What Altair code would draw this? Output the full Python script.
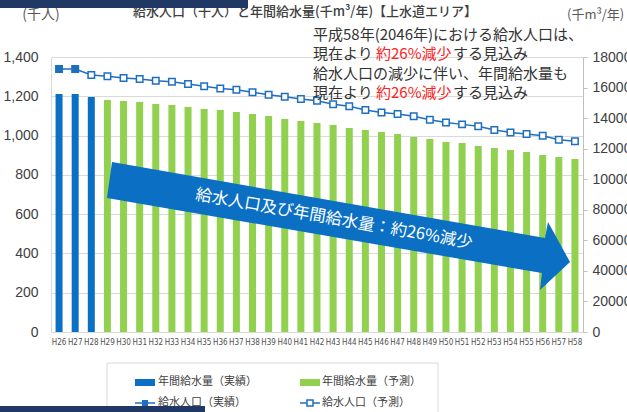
import altair as alt
import pandas as pd

# ---------------- data ----------------
years = ["H26", "H27", "H28", "H29", "H30", "H31", "H32", "H33", "H34", "H35", "H36",
         "H37", "H38", "H39", "H40", "H41", "H42", "H43", "H44", "H45", "H46", "H47",
         "H48", "H49", "H50", "H51", "H52", "H53", "H54", "H55", "H56", "H57", "H58"]
# 年間給水量 (千m3/年)
water = [155800, 155800, 153800, 151800, 151200, 150500, 149200, 148600, 147300, 146000,
         145300, 144000, 142700, 141400, 139400, 138100, 136800, 135500, 133500, 132200,
         130900, 129600, 127600, 126300, 124400, 123700, 121700, 120400, 119100, 117800,
         115800, 114500, 113200]
# 給水人口 (千人)
population = [1339, 1339, 1308, 1302, 1293, 1288, 1279, 1274, 1262, 1251, 1240, 1233,
              1220, 1208, 1198, 1186, 1177, 1160, 1149, 1130, 1118, 1110, 1098, 1081,
              1067, 1057, 1047, 1028, 1016, 1008, 999, 979, 971]
water_kind = ["実績", "実績", "実績"] + ["予測"] * 30
pop_kind = ["実績", "実績"] + ["予測"] * 31

left_ticks = [0, 200, 400, 600, 800, 1000, 1200, 1400]
right_ticks = [0, 20000, 40000, 60000, 80000, 100000, 120000, 140000, 160000, 180000]

title_text = "給水人口（千人）と年間給水量(千m³/年)【上水道エリア】"
left_unit = "(千人)"
right_unit = "(千m³/年)"
note_line1 = "平成58年(2046年)における給水人口は、"
note_pre = "現在より"
note_red = "約26%減少"
note_post = "する見込み"
note_line3 = "給水人口の減少に伴い、年間給水量も"
arrow_text = "給水人口及び年間給水量：約26%減少"
legend_labels = ["年間給水量（実績）", "年間給水量（予測）", "給水人口（実績）", "給水人口（予測）"]

# ---------------- styles ----------------
BLUE = "#0b6fc4"
GREEN = "#92d050"
LINE_BLUE = "#1f6fc0"
ARROW_BLUE = "#0b6fc4"
NAVY = "#1f3864"
GRID = "#d9d9d9"
TXT = "#404040"
JP = "Noto Sans CJK JP"
LAT = "Liberation Sans"
NARROW = "Liberation Sans Narrow, DejaVu Sans Condensed, Arial Narrow, Liberation Sans, sans-serif"

df = pd.DataFrame({"year": years, "water": water, "pop": population,
                   "wkind": water_kind, "pkind": pop_kind})

x_enc = alt.X("year:N", sort=years,
              scale=alt.Scale(paddingInner=0, paddingOuter=0),
              axis=alt.Axis(title=None, labelAngle=0, labelFontSize=8, labelFont=NARROW,
                            labelColor="#505050", ticks=False, domainColor=GRID, labelPadding=6,
                            labelOverlap=False))

bars = alt.Chart(df).mark_bar(size=7).encode(
    x=x_enc,
    y=alt.Y("water:Q", scale=alt.Scale(domain=[0, 180000], nice=False),
            axis=alt.Axis(orient="right", values=right_ticks, format="d", title=None, grid=False,
                          tickColor="#bfbfbf", tickSize=4, domainColor="#bfbfbf",
                          labelFontSize=14, labelFont=LAT, labelColor=TXT, labelPadding=5)),
    color=alt.Color("wkind:N", scale=alt.Scale(domain=["実績", "予測"], range=[BLUE, GREEN]),
                    legend=None),
)

pop_y = alt.Y("pop:Q", scale=alt.Scale(domain=[0, 1400], nice=False),
              axis=alt.Axis(orient="left", values=left_ticks, format=",d", title=None, grid=True,
                            gridColor=GRID, ticks=False, domainColor=GRID, labelFontSize=14,
                            labelFont=LAT, labelColor=TXT, labelPadding=13))

line = alt.Chart(df).mark_line(color=LINE_BLUE, strokeWidth=1.5).encode(x=x_enc, y=pop_y)
pts = alt.Chart(df).mark_point(shape="square", size=42, strokeWidth=1.5, opacity=1,
                               stroke=LINE_BLUE).encode(
    x=x_enc, y=pop_y,
    fill=alt.Fill("pkind:N", scale=alt.Scale(domain=["実績", "予測"], range=[LINE_BLUE, "white"]),
                  legend=None),
)
pop_layer = alt.layer(line, pts)

one = pd.DataFrame({"t": [""]})


def txt(s, x, y, size, color=TXT, align="left", font=JP, weight="normal", angle=0):
    return alt.Chart(pd.DataFrame({"t": [s]})).mark_text(
        align=align, baseline="middle", fontSize=size, color=color, font=font,
        fontWeight=weight, angle=angle).encode(text="t:N", x=alt.value(x), y=alt.value(y))


def rect(x, x2, y, y2, fill, stroke=None):
    kw = dict(fill=fill)
    if stroke:
        kw["stroke"] = stroke
        kw["strokeWidth"] = 1
    return alt.Chart(one).mark_rect(**kw).encode(
        x=alt.value(x), x2=alt.value(x2), y=alt.value(y), y2=alt.value(y2))


# arrow (annotation shape, pixel path relative to its centre)
arrow_path = "M-228,-64L205,12L208,-4L230,36L200,64L202,47L-233,-28Z"
arrow = alt.Chart(one).mark_point(shape=arrow_path, size=4, filled=True, opacity=1,
                                  color=ARROW_BLUE, strokeWidth=0).encode(
    x=alt.value(289), y=alt.value(169))

NOTE = 15
layers = [
    bars, pop_layer, arrow,
    txt(arrow_text, 283, 162, 16.5, color="white", align="center", angle=10),
    txt(title_text, 82, -45, 13, weight=500),
    txt(left_unit, -10, -42, 14, color="#595959", align="center"),
    txt(right_unit, 516, -42, 13, color="#595959"),
    txt(note_line1, 262, -22, NOTE, color="#333333"),
    txt(note_pre, 262, -3, NOTE, color="#333333"),
    txt(note_red, 325, -3, NOTE, color="#ff2020"),
    txt(note_post, 402, -3, NOTE, color="#333333"),
    txt(note_line3, 262, 17, NOTE, color="#333333"),
    txt(note_pre, 262, 36, NOTE, color="#333333"),
    txt(note_red, 325, 36, NOTE, color="#ff2020"),
    txt(note_post, 402, 36, NOTE, color="#333333"),
    # legend
    rect(56, 387, 306, 370, "white", GRID),
    rect(84, 104, 322, 329, BLUE),
    txt(legend_labels[0], 107, 325, 11),
    rect(249, 269, 322, 329, GREEN),
    txt(legend_labels[1], 271, 325, 11),
    alt.Chart(one).mark_rule(color=LINE_BLUE, strokeWidth=1.5).encode(
        x=alt.value(84), x2=alt.value(104), y=alt.value(346)),
    alt.Chart(one).mark_point(shape="square", size=36, filled=True, opacity=1, color=LINE_BLUE).encode(
        x=alt.value(94), y=alt.value(346)),
    txt(legend_labels[2], 107, 346, 11),
    alt.Chart(one).mark_rule(color=LINE_BLUE, strokeWidth=1.5).encode(
        x=alt.value(249), x2=alt.value(269), y=alt.value(346)),
    alt.Chart(one).mark_point(shape="square", size=36, filled=True, opacity=1, fill="white",
                              stroke=LINE_BLUE, strokeWidth=1.5).encode(
        x=alt.value(259), y=alt.value(346)),
    txt(legend_labels[3], 271, 346, 11),
    # slide decoration bands
    rect(-51, 197, -57, -49, NAVY),
    rect(-51, 154, 349, 356, NAVY),
]

chart = alt.layer(*layers).resolve_scale(y="independent", color="independent").properties(
    width=532, height=275,
    autosize=alt.AutoSizeParams(type="none"),
    padding={"left": 51, "top": 57, "right": 44, "bottom": 80},
    background="white",
).configure_view(stroke=None)

chart.save("out.html", embed_options={"renderer": "svg", "actions": False})
